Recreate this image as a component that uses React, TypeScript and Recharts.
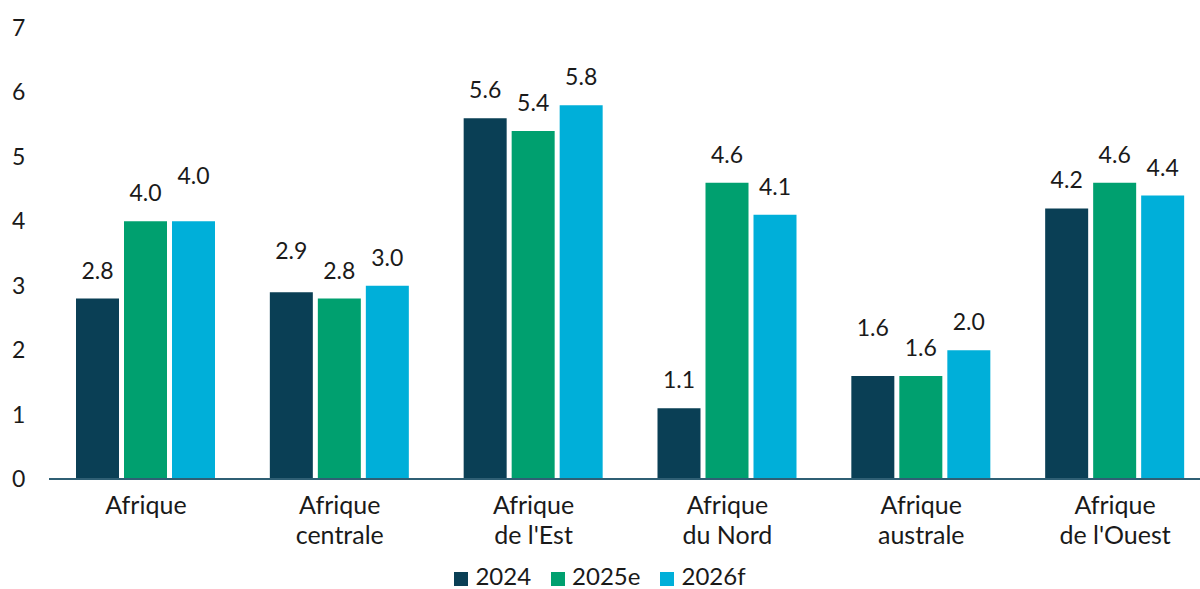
import { BarChart, Bar, XAxis, YAxis, LabelList } from 'recharts';

const regions = [
  'Afrique',
  'Afrique\ncentrale',
  "Afrique\nde l'Est",
  'Afrique\ndu Nord',
  'Afrique\naustrale',
  "Afrique\nde l'Ouest",
];
const growth2024 = [2.8, 2.9, 5.6, 1.1, 1.6, 4.2];
const growth2025e = [4.0, 2.8, 5.4, 4.6, 1.6, 4.6];
const growth2026f = [4.0, 3.0, 5.8, 4.1, 2.0, 4.4];
const yTicks = [0, 1, 2, 3, 4, 5, 6, 7];

// extra lift (px) for labels the original staggered to avoid collisions
const labelLift: Record<string, number[]> = {
  y2024: [0, 13, 0, 0, 20, 0],
  y2025e: [0, 0, 0, 0, 0, 0],
  y2026f: [17, 0, 0, 0, 0, 0],
};

const series = [
  { key: 'y2024', name: '2024', color: '#0a3f55' },
  { key: 'y2025e', name: '2025e', color: '#00a06f' },
  { key: 'y2026f', name: '2026f', color: '#00afd9' },
];

const data = regions.map((region, i) => ({
  region,
  y2024: growth2024[i],
  y2025e: growth2025e[i],
  y2026f: growth2026f[i],
}));

const font = 'Lato, "Open Sans", sans-serif';
const textColor = '#1a1a1a';

function RegionTick({ x, y, payload }: any) {
  const lines = String(payload.value).split('\n');
  return (
    <text x={x} y={y} textAnchor="middle" fontFamily={font} fontSize={25} fill={textColor}>
      {lines.map((line, i) => (
        <tspan key={i} x={x} dy={i === 0 ? 27 : 30}>
          {line}
        </tspan>
      ))}
    </text>
  );
}

function ValueTick({ y, payload }: any) {
  return (
    <text x={12} y={y} dy={8} textAnchor="start" fontFamily={font} fontSize={23} fill={textColor}>
      {payload.value}
    </text>
  );
}

function ValueLabel({ x, y, width, value, index, seriesKey }: any) {
  const lift = labelLift[seriesKey]?.[index] ?? 0;
  return (
    <text x={x + width / 2} y={y - 20 - lift} textAnchor="middle" fontFamily={font} fontSize={23} fill={textColor}>
      {Number(value).toFixed(1)}
    </text>
  );
}

export default function App() {
  return (
    <div style={{ position: 'absolute', left: 0, top: 0, width: 1200, height: 589, overflow: 'hidden', background: '#fff' }}>
      <BarChart
        width={1212}
        height={589}
        data={data}
        margin={{ top: 28, right: 0, left: 0, bottom: 30 }}
        barGap={5}
        barSize={43}
      >
        <YAxis
          width={49}
          domain={[0, 7]}
          ticks={yTicks}
          axisLine={false}
          tickLine={false}
          tick={<ValueTick />}
        />
        <XAxis
          dataKey="region"
          height={80}
          interval={0}
          tickLine={false}
          axisLine={{ stroke: '#2f5f74', strokeWidth: 2 }}
          tick={<RegionTick />}
        />
        {series.map((s) => (
          <Bar key={s.key} dataKey={s.key} name={s.name} fill={s.color} isAnimationActive={false}>
            <LabelList dataKey={s.key} content={(props: any) => <ValueLabel {...props} seriesKey={s.key} />} />
          </Bar>
        ))}
      </BarChart>
      <div
        style={{
          position: 'absolute',
          top: 563,
          left: 0,
          width: 1200,
          display: 'flex',
          justifyContent: 'center',
          gap: 20,
          fontFamily: font,
          fontSize: 24,
          color: textColor,
          lineHeight: '26px',
        }}
      >
        {series.map((s) => (
          <div key={s.key} style={{ display: 'flex', alignItems: 'center', gap: 7 }}>
            <span style={{ display: 'inline-block', width: 14, height: 14, background: s.color, marginTop: 5 }} />
            <span>{s.name}</span>
          </div>
        ))}
      </div>
    </div>
  );
}
